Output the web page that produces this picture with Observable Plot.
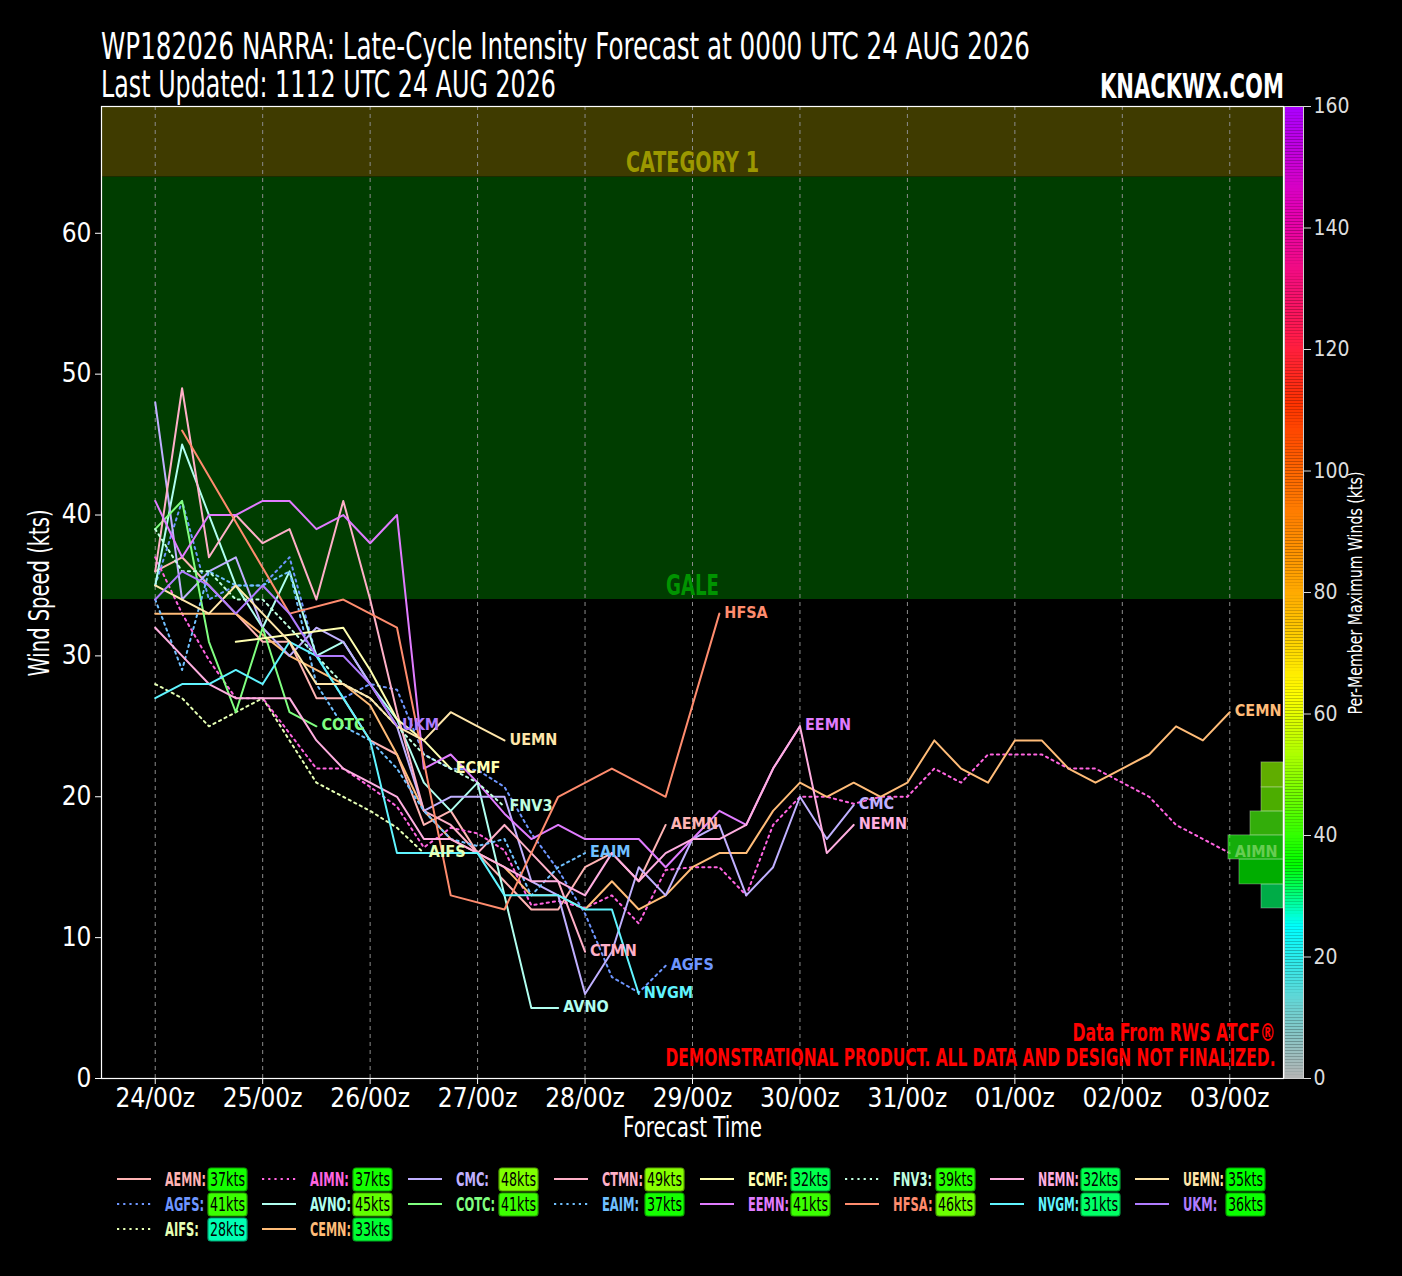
<!DOCTYPE html>
<html><head><meta charset="utf-8">
<script src="https://cdn.jsdelivr.net/npm/d3@7"></script>
<script src="https://cdn.jsdelivr.net/npm/@observablehq/plot@0.6"></script>
<style>
html,body{margin:0;padding:0;background:#000;}
#wrap{position:relative;width:1402px;height:1276px;background:#000;overflow:hidden;}
#wrap > *{position:absolute;}
</style></head><body><div id="wrap"></div>
<script>
const FONT = "'Liberation Sans Narrow','DejaVu Sans Condensed','Roboto Condensed',sans-serif";

// ---------- data ----------
const models = ["AEMN","AGFS","AIFS","AIMN","AVNO","CEMN","CMC","COTC","CTMN","EAIM","ECMF","EEMN","FNV3","HFSA","NEMN","NVGM","UEMN","UKM"];
const modelColors = ["#ffb4b4","#6e96ff","#e6ffb4","#ff64e0","#b0fff0","#ffbc78","#c0b0ff","#80ff80","#ffb0c8","#70c0ff","#ffffb0","#e07cff","#c0ffe0","#ff8c6e","#ffaee0","#60f4ff","#ffe6aa","#b07cff"];
const modelDotted = [false,true,true,true,false,false,false,false,false,true,false,false,true,false,false,false,false,false];
const maxWinds = [37,41,28,37,45,33,48,41,49,37,32,41,39,46,32,31,35,36];

const AEMN = [[0,36],[6,37],[12,35],[18,33],[24,31],[30,31],[36,27],[42,27],[48,24],[54,23],[60,18],[66,19],[72,16],[78,14],[84,12],[90,12],[96,15],[102,16],[108,14],[114,18]];
const AGFS = [[0,35],[6,41],[12,34],[18,35],[24,35],[30,37],[36,30],[42,27],[48,28],[54,27.6],[60,23],[66,22],[72,21.9],[78,20.7],[84,17.4],[90,14.8],[96,11.7],[102,7.2],[108,6.1],[114,8]];
const AIFS = [[0,28],[6,27],[12,25],[18,26],[24,27],[30,24],[36,21],[42,20],[48,19],[54,17.8],[60,16]];
const AIMN = [[0,37],[6,33],[12,29.7],[18,27],[24,27],[30,24.5],[36,22],[42,22],[48,20.7],[54,19.3],[60,16.4],[66,17.8],[72,17.4],[78,16.2],[84,12.3],[90,12.6],[96,12.1],[102,13],[108,11],[114,14.8],[120,15],[126,15],[132,13],[138,18],[144,20],[150,20],[156,19.5],[162,20],[168,20],[174,22],[180,21],[186,23],[192,23],[198,23],[204,22],[210,22],[216,21],[222,20],[228,18],[234,17],[240,16]];
const AVNO = [[0,35],[6,45],[12,40],[18,35],[24,32],[30,36],[36,30],[42,31],[48,28],[54,25.5],[60,21],[66,19],[72,21],[84,5],[90,5]];
const CEMN = [[0,33],[18,33],[24,31.5],[30,30],[36,29],[42,28],[48,26.5],[54,23],[60,19],[66,17],[78,15],[84,13],[90,13],[96,12],[102,14],[108,12],[114,13],[120,15],[126,16],[132,16],[138,19],[144,21],[150,20],[156,21],[162,20],[168,21],[174,24],[180,22],[186,21],[192,24],[198,24],[204,22],[210,21],[216,22],[222,23],[228,25],[234,24],[240,26]];
const CMC  = [[0,48],[6,34],[12,36],[18,37],[24,32],[30,30],[36,32],[42,31],[48,28],[54,25],[60,19],[66,20],[72,20],[78,20],[84,14],[90,13],[96,6],[102,9],[108,15],[114,13],[120,17],[126,18],[132,13],[138,15],[144,20],[150,17],[156,19.4]];
const COTC = [[0,39],[6,41],[12,31],[18,26],[24,32],[30,26],[36,25]];
const CTMN = [[0,36],[6,49],[12,37],[18,40],[24,38],[30,39],[36,34],[42,41],[48,34],[54,26],[60,19],[66,18],[72,16],[78,18],[84,16],[90,14],[96,9]];
const EAIM = [[0,34],[6,29],[12,36],[18,35],[24,35],[30,36],[36,28],[42,25],[48,24],[54,22],[60,19],[66,17],[72,16.5],[78,17],[84,13],[90,15],[96,16]];
const ECMF = [[18,31],[42,32],[48,29],[54,25.5],[60,24],[66,22]];
const EEMN = [[0,41],[6,37],[12,40],[18,40],[24,41],[30,41],[36,39],[42,40],[48,38],[54,40],[60,22],[66,23],[72,21],[78,18.8],[84,17],[90,18],[96,17],[102,17],[108,17],[114,15],[120,17],[126,19],[132,18],[138,22],[144,25]];
const FNV3 = [[0,39],[6,36],[12,36],[18,34],[24,34],[30,32],[36,30],[42,28],[48,27],[54,25],[60,23],[66,22],[72,21],[78,19.3]];
const HFSA = [[6,46],[30,33],[42,34],[54,32],[66,13],[78,12],[90,20],[102,22],[114,20],[126,33]];
const NEMN = [[0,32],[6,30],[12,28],[18,27],[24,27],[30,27],[36,24],[42,22],[48,21],[54,20],[60,17],[66,17],[72,16],[78,15],[84,14],[90,14],[96,13],[102,16],[108,14],[114,16],[120,17],[126,17],[132,18],[138,22],[144,25],[150,16],[156,18]];
const NVGM = [[0,27],[6,28],[12,28],[18,29],[24,28],[30,31],[36,30],[42,27],[48,24],[54,16],[60,16],[66,16],[72,16],[78,13],[84,13],[90,13],[96,12],[102,12],[108,6]];
const UEMN = [[0,35],[6,34],[12,33],[18,35],[24,33],[30,31],[36,28],[42,28],[48,27],[54,25],[60,24],[66,26],[72,25],[78,24]];
const UKM  = [[0,34],[6,36],[12,35],[18,33],[24,35],[30,33],[36,30],[42,30],[48,28],[54,25]];
const series = {AEMN,AGFS,AIFS,AIMN,AVNO,CEMN,CMC,COTC,CTMN,EAIM,ECMF,EEMN,FNV3,HFSA,NEMN,NVGM,UEMN,UKM};

const dayTicks = [0,24,48,72,96,120,144,168,192,216,240];
const dayLabels = ["24/00z","25/00z","26/00z","27/00z","28/00z","29/00z","30/00z","31/00z","01/00z","02/00z","03/00z"];
const windTicks = [0,10,20,30,40,50,60];
const bandNames = ["GALE","CATEGORY 1"];
const bandLow = [34,64];
const bandHigh = [64,83];
const bandFill = ["#003d00","#3f3b00"];
const bandText = ["#009400","#9c9800"];

const histLow = [12.07,13.78,15.55,17.26,18.96,20.67];
const histHigh = [13.78,15.55,17.26,18.96,20.67,22.44];
const histCount = [2,4,5,3,2,2];
const histColor = ["#00fe68","#00ff00","#1eff0f","#4bff0f","#70ff00","#8eff00"];

const cmapStops  = [0,12,25,35,48,63,80,100,111,122,142,160];
const cmapColors = ["#b4b4b4","#6ad2d2","#00ffff","#00ff00","#80ff00","#ffff00","#ffaa00","#ff6600","#ff3300","#ff1a4a","#e600b0","#aa00ff"];
const cbarTicks = [0,20,40,60,80,100,120,140,160];

// ---------- helpers ----------
const cmap = d3.scaleLinear().domain(cmapStops).range(cmapColors).interpolate(d3.interpolateRgb);
const XMIN = -12, XMAX = 252, YMAX = 69;
const HIST_UNIT = 2.46; // hours of width per member
const W = 1402, H = 1058, MT = 6, MB = 80, ML = 101, MR = 119;

const wrap = document.getElementById("wrap");

// ---------- main plot ----------
const bands = bandNames.map((n,i)=>({n, lo:bandLow[i], hi:bandHigh[i], fill:bandFill[i], tc:bandText[i]}));
const hist = histLow.map((lo,i)=>({lo, hi:histHigh[i], c:histCount[i], col:histColor[i]}));
const ends = models.map((m,i)=>{const s=series[m]; const e=s[s.length-1]; return {m, h:e[0], v:e[1], col:modelColors[i]};});

const lineMarks = models.map((m,i)=>Plot.line(series[m], {
  x: d=>d[0], y: d=>d[1], stroke: modelColors[i], strokeWidth: 2,
  strokeDasharray: modelDotted[i] ? "2.2,4" : null, clip: true
}));

const main = Plot.plot({
  width: W, height: H, marginTop: MT, marginBottom: MB, marginLeft: ML, marginRight: MR,
  style: {background:"#000", color:"#fff", fontFamily: FONT, overflow:"visible"},
  x: {domain:[XMIN, XMAX], axis: null},
  y: {domain:[0, YMAX], axis: null},
  color: {type:"identity"},
  marks: [
    Plot.rect(bands, {y1:"lo", y2:"hi", fill:"fill", clip:true}),
    Plot.ruleX(dayTicks, {stroke:"#8c8c8c", strokeDasharray:"4,4", strokeWidth:1}),
    Plot.text(bands, {y:"lo", text:"n", fill:"tc", frameAnchor:"middle", lineAnchor:"bottom", dy:-5, fontSize:29, fontWeight:"bold"}),
    ...lineMarks,
    Plot.text(ends, {x:"h", y:"v", text:"m", fill:"col", dx:5, dy:-1, textAnchor:"start", fontSize:16, fontWeight:"bold"}),
    Plot.rect(hist, {y1:"lo", y2:"hi", x1: d=>XMAX - d.c*HIST_UNIT, x2: XMAX, fill:"col", fillOpacity:0.68, stroke:"#ffffff", strokeOpacity:0.3, strokeWidth:1}),
    Plot.text(["Data From RWS ATCF®","DEMONSTRATIONAL PRODUCT. ALL DATA AND DESIGN NOT FINALIZED."], {
      text: d=>d, frameAnchor:"bottom-right", dx:-8, fill:"#ff0000", fontSize:24, fontWeight:"bold", textAnchor:"end"}),
    Plot.axisX(dayTicks, {tickFormat: d=>dayLabels[dayTicks.indexOf(d)], tickSize:6, tickPadding:4, fontSize:26, label:null}),
    Plot.axisY(windTicks, {tickSize:6, tickPadding:4, fontSize:26, label:null}),
    Plot.text(["Forecast Time"], {text:d=>d, frameAnchor:"bottom", dy:58, fontSize:28, fill:"#fff"}),
    Plot.text(["Wind Speed (kts)"], {text:d=>d, frameAnchor:"left", dx:-61, dy:84, rotate:-90, textAnchor:"start", fontSize:28, fill:"#fff"}),
    Plot.frame({stroke:"#fff", strokeWidth:1.2})
  ]
});
main.style.left = "0px"; main.style.top = "100px";
wrap.appendChild(main);

// ---------- colorbar ----------
const cbarSlices = d3.range(0, 160, 0.5);
const cbar = Plot.plot({
  width: 119, height: H, marginTop: MT, marginBottom: MB, marginLeft: 1, marginRight: 99,
  style: {background:"transparent", color:"#ddd", fontFamily: FONT, overflow:"visible"},
  x: {domain:[0,1], axis:null},
  y: {domain:[0,160], axis:null},
  color: {type:"identity"},
  marks: [
    Plot.rect(cbarSlices, {x1:0, x2:1, y1:d=>d, y2:d=>d+0.5, fill:d=>cmap(d+0.25)}),
    Plot.frame({stroke:"#cfcfcf", strokeWidth:1}),
    Plot.axisY(cbarTicks, {anchor:"right", tickSize:7, tickPadding:3, fontSize:21, label:null}),
    Plot.text(["Per-Member Maximum Winds (kts)"], {text:d=>d, frameAnchor:"right", dx:52, dy:122, rotate:-90, textAnchor:"start", fontSize:20, fill:"#fff"})
  ]
});
cbar.style.left = "1283px"; cbar.style.top = "100px";
wrap.appendChild(cbar);

// condense in-plot texts to the reference widths
const fitWidths = {
  "GALE":53, "CATEGORY 1":133, "Forecast Time":139, "Wind Speed (kts)":167,
  "Data From RWS ATCF®":203, "DEMONSTRATIONAL PRODUCT. ALL DATA AND DESIGN NOT FINALIZED.":610,
  "Per-Member Maximum Winds (kts)":243
};
const disclaimerDy = {"Data From RWS ATCF®":-38, "DEMONSTRATIONAL PRODUCT. ALL DATA AND DESIGN NOT FINALIZED.":-13};
for (const svg of [main, cbar]) {
  d3.select(svg).selectAll("text").each(function(){
    const t = this.textContent;
    if (fitWidths[t]) { this.setAttribute("textLength", fitWidths[t]); this.setAttribute("lengthAdjust","spacingAndGlyphs"); }
    if (disclaimerDy[t] !== undefined) { this.setAttribute("dy", disclaimerDy[t]); }
  });
}

// ---------- title (drawn over the plot's top margin) ----------
const title = d3.create("svg").attr("width", W).attr("height", 112).style("left","0px").style("top","0px").style("background","transparent");
title.append("text").attr("x",101).attr("y",59).attr("fill","#fff").attr("font-family",FONT).attr("font-size",37)
  .attr("textLength",929).attr("lengthAdjust","spacingAndGlyphs")
  .text("WP182026 NARRA: Late-Cycle Intensity Forecast at 0000 UTC 24 AUG 2026");
title.append("text").attr("x",101).attr("y",97).attr("fill","#fff").attr("font-family",FONT).attr("font-size",37)
  .attr("textLength",455).attr("lengthAdjust","spacingAndGlyphs")
  .text("Last Updated: 1112 UTC 24 AUG 2026");
title.append("text").attr("x",1100).attr("y",98).attr("fill","#fff").attr("font-family",FONT)
  .attr("font-size",34).attr("font-weight","bold")
  .attr("textLength",184).attr("lengthAdjust","spacingAndGlyphs")
  .text("KNACKWX.COM");
wrap.appendChild(title.node());

// ---------- legend ----------
const colCounts = [3,3,2,2,2,2,2,2];
const colX = [117,262,408,554,700,845,990,1135];
const rowY = [19,44,69];
const legend = d3.create("svg").attr("width", W).attr("height", 110).style("left","0px").style("top","1160px");
wrap.appendChild(legend.node());
let k = 0;
colCounts.forEach((n,ci)=>{
  for (let r=0;r<n;r++,k++) {
    const i = k, x = colX[ci], y = rowY[r];
    const g = legend.append("g");
    g.append("line").attr("x1",x).attr("x2",x+34).attr("y1",y).attr("y2",y)
      .attr("stroke",modelColors[i]).attr("stroke-width",2).attr("stroke-dasharray", modelDotted[i] ? "2.2,4" : null);
    const lab = g.append("text").attr("x",x+48).attr("y",y+7)
      .attr("fill",modelColors[i]).attr("font-family",FONT).attr("font-weight","bold").attr("font-size",20)
      .text(models[i] + ":");
    const w = lab.node().getComputedTextLength();
    lab.attr("textLength", Math.min(w*0.64, 41)).attr("lengthAdjust","spacingAndGlyphs");
    const c = cmap(maxWinds[i]);
    g.append("rect").attr("x",x+91).attr("y",y-11).attr("width",39).attr("height",23).attr("rx",3)
      .attr("fill",c).attr("stroke",d3.color(c).darker(1.2)).attr("stroke-width",1.2);
    g.append("text").attr("x",x+93).attr("y",y+7).attr("fill","#000")
      .attr("font-family",FONT).attr("font-size",20).attr("textLength",35).attr("lengthAdjust","spacingAndGlyphs")
      .text(maxWinds[i] + "kts");
  }
});
</script></body></html>
